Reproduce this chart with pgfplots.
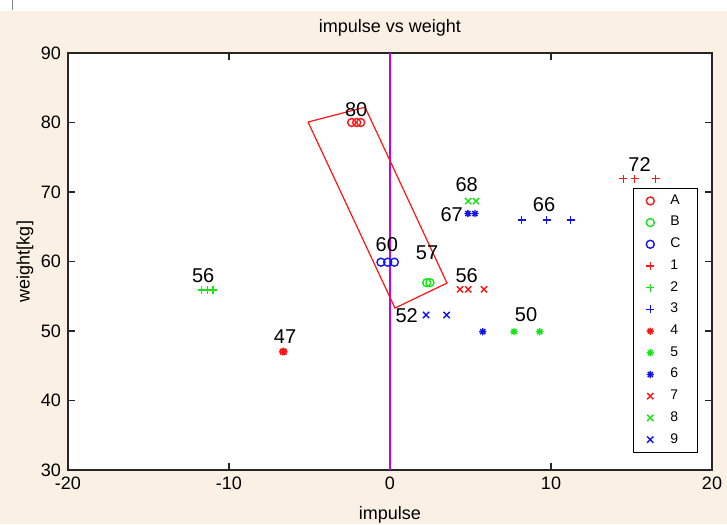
\documentclass[border=0pt]{standalone}
\usepackage{fontspec}
\setmainfont{Liberation Sans}
\usepackage{pgfplots}
\pgfplotsset{compat=1.18}

\definecolor{figbg}{RGB}{250,240,228}
\definecolor{mred}{RGB}{255,20,20}
\definecolor{mgreen}{RGB}{20,230,20}
\definecolor{mblue}{RGB}{20,20,240}
\definecolor{mmag}{RGB}{200,0,230}

% matlab-like '*' marker (plus + cross)
\pgfdeclareplotmark{mstar}{%
  \pgfpathmoveto{\pgfqpoint{-\pgfplotmarksize}{0pt}}%
  \pgfpathlineto{\pgfqpoint{\pgfplotmarksize}{0pt}}%
  \pgfpathmoveto{\pgfqpoint{0pt}{-\pgfplotmarksize}}%
  \pgfpathlineto{\pgfqpoint{0pt}{\pgfplotmarksize}}%
  \pgfpathmoveto{\pgfqpoint{-.707\pgfplotmarksize}{-.707\pgfplotmarksize}}%
  \pgfpathlineto{\pgfqpoint{.707\pgfplotmarksize}{.707\pgfplotmarksize}}%
  \pgfpathmoveto{\pgfqpoint{-.707\pgfplotmarksize}{.707\pgfplotmarksize}}%
  \pgfpathlineto{\pgfqpoint{.707\pgfplotmarksize}{-.707\pgfplotmarksize}}%
  \pgfusepathqstroke}
% plain plus, drawn the same way
\pgfdeclareplotmark{mplus}{%
  \pgfpathmoveto{\pgfqpoint{-\pgfplotmarksize}{0pt}}%
  \pgfpathlineto{\pgfqpoint{\pgfplotmarksize}{0pt}}%
  \pgfpathmoveto{\pgfqpoint{0pt}{-\pgfplotmarksize}}%
  \pgfpathlineto{\pgfqpoint{0pt}{\pgfplotmarksize}}%
  \pgfusepathqstroke}

\pgfplotsset{
  mk/.style={only marks, #1, mark options={draw=#1, line width=0.7pt}},
}

\begin{document}
\begin{tikzpicture}
\useasboundingbox (0,0) rectangle (363.5pt,262pt);
\fill[figbg] (0,0) rectangle (363.5pt,256.5pt);
\draw[black!50,line width=0.4pt] (6pt,257pt) -- (6pt,262pt);
\begin{axis}[
  at={(34pt,27pt)}, anchor=south west,
  scale only axis, width=322pt, height=208.5pt,
  xmin=-20, xmax=20, ymin=30, ymax=90,
  xtick={-20,-10,...,20}, ytick={30,40,...,90},
  tick align=inside, major tick length=3.5pt,
  axis line style={line width=0.6pt, black!85},
  tick style={line width=0.6pt, black!85},
  axis background/.style={fill=white},
  font=\fontsize{9}{10}\selectfont,
  /pgf/number format/assume math mode=true,
  title={impulse vs weight},
  every axis title/.style={at={(axis description cs:0.5,1.06)}, anchor=center},
  xlabel={impulse}, ylabel={weight[kg]},
  every axis x label/.style={at={(axis description cs:0.5,-0.108)}, anchor=center},
  every axis y label/.style={at={(axis description cs:-0.067,0.5)}, rotate=90, anchor=center},
  legend style={at={(0.877,0.676)}, anchor=north west,
    font=\fontsize{7}{8}\selectfont, draw=black, line width=0.5pt,
    row sep=0.5pt, inner xsep=6.5pt, inner ysep=1pt,
    /tikz/every odd column/.append style={column sep=6pt}},
  legend cell align=left,
]
\addplot[mmag, line width=0.9pt, forget plot] coordinates {(0,30) (0,90)};
\addplot[mred, line width=0.6pt, forget plot] coordinates {
  (-5.09,80.07) (-1.55,82.2) (3.54,56.9) (0.31,53.3) (-5.09,80.07)};

\addplot[mk=mred, mark=o, mark size=2pt] coordinates {(-2.38,80) (-2.07,80) (-1.82,80)};
\addlegendentry{A}
\addplot[mk=mgreen, mark=o, mark size=2pt] coordinates {(2.28,56.95) (2.48,56.95)};
\addlegendentry{B}
\addplot[mk=mblue, mark=o, mark size=2pt] coordinates {(-0.56,59.9) (-0.14,59.9) (0.27,59.9)};
\addlegendentry{C}
\addplot[mk=mred, mark=mplus, mark size=2pt] coordinates {(14.5,71.9) (15.2,71.9) (16.5,71.9)};
\addlegendentry{1}
\addplot[mk=mgreen, mark=mplus, mark size=2pt] coordinates {(-11.7,55.9) (-11.35,55.9) (-11.0,55.9)};
\addlegendentry{2}
\addplot[mk=mblue, mark=mplus, mark size=2pt] coordinates {(8.18,66) (9.73,66) (11.22,66)};
\addlegendentry{3}
\addplot[mk=mred, mark=mstar, mark size=1.8pt] coordinates {(-6.68,47) (-6.63,47.1) (-6.58,47)};
\addlegendentry{4}
\addplot[mk=mgreen, mark=mstar, mark size=1.8pt] coordinates {(7.7,49.9) (9.3,49.9)};
\addlegendentry{5}
\addplot[mk=mblue, mark=mstar, mark size=1.8pt] coordinates {(4.84,66.9) (5.28,66.9) (5.76,49.9)};
\addlegendentry{6}
\addplot[mk=mred, mark=x, mark size=2.2pt] coordinates {(4.35,56) (4.86,56) (5.84,56)};
\addlegendentry{7}
\addplot[mk=mgreen, mark=x, mark size=2.2pt] coordinates {(4.86,68.7) (5.34,68.7)};
\addlegendentry{8}
\addplot[mk=mblue, mark=x, mark size=2.2pt] coordinates {(2.24,52.3) (3.52,52.3)};
\addlegendentry{9}

\begin{scope}[every node/.style={font=\fontsize{10}{12}\selectfont, inner sep=0pt}]
\node at (axis cs:-2.1,81.9) {80};
\node at (axis cs:-0.2,62.5) {60};
\node at (axis cs:2.3,61.2) {57};
\node at (axis cs:1.04,52.2) {52};
\node at (axis cs:4.76,71.0) {68};
\node at (axis cs:3.83,66.8) {67};
\node at (axis cs:9.57,68.2) {66};
\node at (axis cs:4.76,57.9) {56};
\node at (axis cs:8.45,52.3) {50};
\node at (axis cs:15.5,73.9) {72};
\node at (axis cs:-11.6,57.9) {56};
\node at (axis cs:-6.52,49.2) {47};
\end{scope}
\end{axis}
\end{tikzpicture}
\end{document}
